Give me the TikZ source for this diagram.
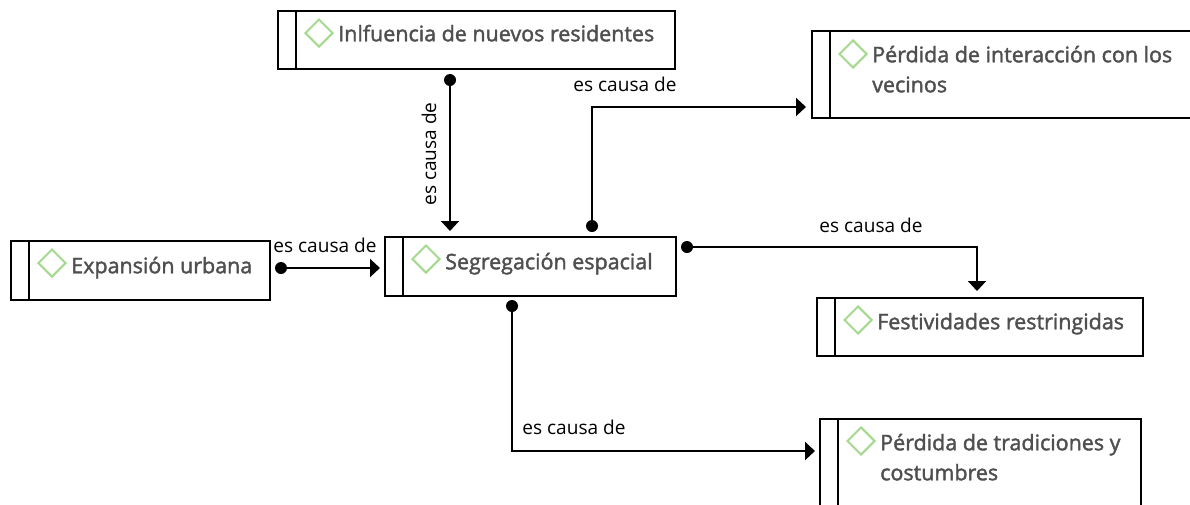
\documentclass[tikz,border=0pt]{standalone}
\usepackage{fontspec}
\setmainfont{Open Sans}
\newfontfamily\boxfont[FakeBold=1.8]{Open Sans}
\usetikzlibrary{arrows.meta,shapes.geometric}
\definecolor{markGreen}{HTML}{A5D98F}
\definecolor{boxText}{HTML}{4F4F4F}

\begin{document}
\begin{tikzpicture}
[x=0.75pt,y=-0.75pt,
  boxDecorate/.style={shape=rectangle,draw,line width=1.5pt,inner sep=0pt,anchor=north west},
  markDecorate/.style={shape=diamond,draw=markGreen,line width=1.5pt,inner sep=0pt,minimum width=21pt,minimum height=21pt,aspect=1},
  textDecorate/.style={anchor=north west,inner sep=0pt,align=left,text=boxText,font=\fontsize{16.1pt}{22.5pt}\boxfont},
  dotDecorate/.style={shape=circle,fill=black,inner sep=0pt,minimum size=9pt},
  lineDecorate/.style={line width=1.5pt,-{Triangle[length=7.5pt,width=13.5pt]}},
  causeDecorate/.style={inner sep=0pt,font=\fontsize{14.3pt}{16pt}\selectfont}]
\clip (0,0) rectangle (1190,504);
%% boxes with bar, mark and text
\foreach \nodename/\x/\y/\w/\h/\markdy/\textdy/\boxtext in {
  influencia/277/10/397/58/23/10/{Inlfuencia de nuevos residentes},
  interaccion/811/30/420/87/24/11/{P\'erdida de interacci\'on con los\\\strut vecinos},
  expansion/10/240/259/59/23/12/{Expansi\'on urbana},
  segregacion/384/236/291/59/23/12/{Segregaci\'on espacial},
  festividades/816/297/326/58/23/11/{Festividades restringidas},
  tradiciones/819/418/321/120/23/11/{P\'erdida de tradiciones y\\\strut costumbres}}
{
  \node (\nodename) at (\x,\y) [boxDecorate,minimum width={\w*0.75pt},minimum height={\h*0.75pt}] {};
  \draw [line width=1.5pt] (\x+19,\y) -- (\x+19,\y+\h);
  \node (\nodename-mark) at (\x+42,\y+\markdy) [markDecorate] {};
  \node (\nodename-text) at (\x+61,\y+\textdy) [textDecorate] {\strut\boxtext};
}
%% start dots
\foreach \nodename/\x/\y in {
  dotinfluencia/450/80, dotinteraccion/592/226, dotexpansion/281/268,
  dotfestividades/687/247, dottradiciones/512/306}
{
  \node (\nodename) at (\x,\y) [dotDecorate] {};
}
%% connectors
\draw [lineDecorate,shorten >=3.75pt] (dotinfluencia) -- (dotinfluencia |- segregacion.north);
\draw [lineDecorate,shorten >=3.75pt] (dotinteraccion) |- (interaccion.west |- 0,107);
\draw [lineDecorate,shorten >=3pt] (dotexpansion) -- (dotexpansion -| segregacion.west);
\draw [lineDecorate,shorten >=4.5pt] (dotfestividades) -| (festividades.north -| 977,0);
\draw [lineDecorate,shorten >=3pt] (dottradiciones) |- (tradiciones.west |- 0,451);
%% labels
\node (causeinfluencia) at (429,154) [causeDecorate,rotate=90] {es causa de};
\node (causeinteraccion) at (625,84) [causeDecorate] {es causa de};
\node (causeexpansion) at (325,245) [causeDecorate] {es causa de};
\node (causefestividades) at (871,225) [causeDecorate] {es causa de};
\node (causetradiciones) at (574,427) [causeDecorate] {es causa de};
\end{tikzpicture}
\end{document}
